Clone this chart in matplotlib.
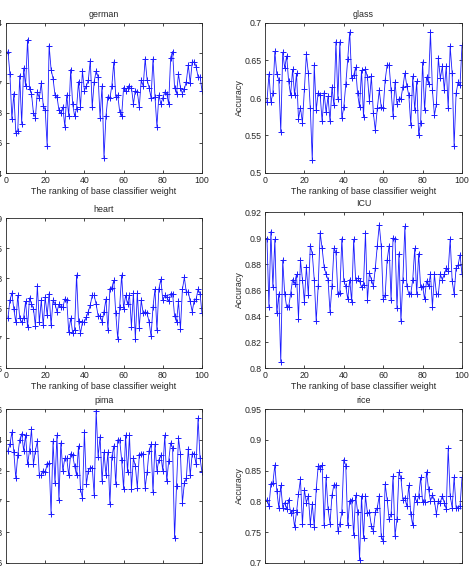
import numpy as np
import matplotlib
matplotlib.use("Agg")
import matplotlib.pyplot as plt
from matplotlib.ticker import FuncFormatter

plt.rcParams['font.family'] = ['Liberation Sans', 'DejaVu Sans']

rank = list(range(1, 101))

german = [0.721, 0.706, 0.676, 0.693, 0.667, 0.668, 0.705, 0.673, 0.710, 0.698,
          0.729, 0.696, 0.693, 0.680, 0.677, 0.694, 0.690, 0.700, 0.685, 0.682,
          0.658, 0.725, 0.709, 0.703, 0.692, 0.691, 0.682, 0.680, 0.684, 0.671,
          0.692, 0.678, 0.709, 0.686, 0.678, 0.683, 0.701, 0.684, 0.708, 0.695,
          0.698, 0.702, 0.715, 0.684, 0.701, 0.708, 0.704, 0.677, 0.698, 0.650,
          0.678, 0.691, 0.690, 0.698, 0.714, 0.691, 0.692, 0.681, 0.678, 0.697,
          0.695, 0.697, 0.698, 0.697, 0.686, 0.695, 0.694, 0.684, 0.702, 0.698,
          0.716, 0.702, 0.697, 0.690, 0.716, 0.691, 0.671, 0.692, 0.686, 0.690,
          0.694, 0.693, 0.686, 0.717, 0.721, 0.697, 0.693, 0.706, 0.697, 0.693,
          0.696, 0.701, 0.712, 0.700, 0.714, 0.714, 0.711, 0.704, 0.704, 0.695]

glass = [0.595, 0.632, 0.595, 0.606, 0.662, 0.632, 0.624, 0.555, 0.661, 0.640,
         0.656, 0.622, 0.604, 0.638, 0.604, 0.633, 0.572, 0.587, 0.567, 0.612,
         0.658, 0.633, 0.586, 0.517, 0.644, 0.584, 0.607, 0.604, 0.569, 0.607,
         0.581, 0.602, 0.569, 0.614, 0.590, 0.675, 0.599, 0.675, 0.573, 0.588,
         0.618, 0.652, 0.688, 0.626, 0.630, 0.641, 0.606, 0.588, 0.637, 0.575,
         0.638, 0.628, 0.596, 0.629, 0.580, 0.557, 0.586, 0.610, 0.588, 0.586,
         0.624, 0.644, 0.644, 0.610, 0.576, 0.621, 0.592, 0.599, 0.599, 0.615,
         0.633, 0.616, 0.604, 0.564, 0.629, 0.584, 0.622, 0.551, 0.567, 0.648,
         0.584, 0.628, 0.619, 0.688, 0.610, 0.577, 0.592, 0.653, 0.626, 0.642,
         0.611, 0.642, 0.586, 0.669, 0.633, 0.536, 0.606, 0.621, 0.617, 0.670]

heart = [0.733, 0.763, 0.775, 0.748, 0.726, 0.771, 0.733, 0.726, 0.734, 0.761,
         0.718, 0.767, 0.757, 0.749, 0.720, 0.787, 0.726, 0.763, 0.721, 0.768,
         0.738, 0.774, 0.721, 0.763, 0.757, 0.744, 0.756, 0.752, 0.751, 0.765,
         0.763, 0.710, 0.733, 0.709, 0.714, 0.805, 0.728, 0.708, 0.726, 0.727,
         0.735, 0.744, 0.755, 0.771, 0.771, 0.756, 0.737, 0.737, 0.727, 0.744,
         0.765, 0.713, 0.781, 0.784, 0.796, 0.741, 0.699, 0.752, 0.805, 0.749,
         0.771, 0.757, 0.772, 0.719, 0.775, 0.699, 0.775, 0.717, 0.763, 0.741,
         0.744, 0.741, 0.727, 0.703, 0.752, 0.781, 0.713, 0.782, 0.798, 0.763,
         0.771, 0.768, 0.761, 0.774, 0.774, 0.737, 0.727, 0.761, 0.715, 0.781,
         0.801, 0.776, 0.777, 0.761, 0.744, 0.762, 0.765, 0.781, 0.774, 0.741]

icu = [0.8995, 0.847, 0.905, 0.862, 0.899, 0.842, 0.857, 0.805, 0.883, 0.857,
       0.847, 0.847, 0.857, 0.868, 0.865, 0.872, 0.838, 0.883, 0.868, 0.851,
       0.878, 0.856, 0.894, 0.888, 0.868, 0.836, 0.863, 0.904, 0.892, 0.878,
       0.872, 0.868, 0.843, 0.863, 0.892, 0.889, 0.857, 0.858, 0.8995, 0.867,
       0.863, 0.853, 0.868, 0.851, 0.899, 0.868, 0.869, 0.867, 0.862, 0.864,
       0.904, 0.852, 0.873, 0.868, 0.863, 0.877, 0.894, 0.910, 0.894, 0.853,
       0.856, 0.883, 0.894, 0.852, 0.900, 0.8995, 0.846, 0.888, 0.836, 0.868,
       0.909, 0.863, 0.857, 0.857, 0.868, 0.892, 0.857, 0.888, 0.862, 0.863,
       0.853, 0.867, 0.863, 0.872, 0.847, 0.872, 0.857, 0.857, 0.872, 0.868,
       0.872, 0.877, 0.875, 0.899, 0.867, 0.857, 0.877, 0.879, 0.887, 0.872]

pima = [0.733, 0.737, 0.745, 0.732, 0.715, 0.730, 0.740, 0.744, 0.733, 0.743,
        0.724, 0.733, 0.747, 0.724, 0.733, 0.739, 0.717, 0.717, 0.720, 0.719,
        0.724, 0.725, 0.692, 0.739, 0.712, 0.743, 0.701, 0.738, 0.720, 0.728,
        0.728, 0.717, 0.731, 0.730, 0.723, 0.717, 0.736, 0.708, 0.702, 0.745,
        0.711, 0.720, 0.722, 0.722, 0.704, 0.759, 0.729, 0.742, 0.713, 0.732,
        0.717, 0.732, 0.698, 0.729, 0.736, 0.711, 0.740, 0.740, 0.727, 0.708,
        0.743, 0.719, 0.743, 0.708, 0.728, 0.723, 0.709, 0.730, 0.731, 0.731,
        0.709, 0.719, 0.733, 0.737, 0.706, 0.737, 0.720, 0.727, 0.730, 0.720,
        0.743, 0.713, 0.726, 0.738, 0.735, 0.676, 0.710, 0.741, 0.731, 0.699,
        0.712, 0.715, 0.734, 0.717, 0.731, 0.731, 0.724, 0.754, 0.728, 0.719]

rice = [0.803, 0.792, 0.828, 0.830, 0.859, 0.817, 0.790, 0.826, 0.790, 0.798,
        0.788, 0.803, 0.781, 0.786, 0.759, 0.782, 0.812, 0.836, 0.763, 0.819,
        0.798, 0.809, 0.763, 0.796, 0.759, 0.820, 0.857, 0.853, 0.859, 0.761,
        0.839, 0.788, 0.764, 0.810, 0.827, 0.827, 0.752, 0.764, 0.782, 0.868,
        0.858, 0.761, 0.801, 0.803, 0.745, 0.810, 0.783, 0.705, 0.809, 0.741,
        0.809, 0.781, 0.782, 0.760, 0.752, 0.782, 0.790, 0.809, 0.744, 0.735,
        0.828, 0.803, 0.771, 0.779, 0.841, 0.744, 0.771, 0.847, 0.838, 0.803,
        0.806, 0.792, 0.826, 0.779, 0.761, 0.808, 0.799, 0.808, 0.839, 0.799,
        0.799, 0.848, 0.820, 0.801, 0.810, 0.801, 0.779, 0.801, 0.798, 0.809,
        0.798, 0.788, 0.886, 0.809, 0.790, 0.839, 0.790, 0.790, 0.792, 0.839]

titles = ['german', 'glass', 'heart', 'ICU', 'pima', 'rice']
series = [german, glass, heart, icu, pima, rice]
ylims = [(0.64, 0.74), (0.5, 0.7), (0.65, 0.9), (0.8, 0.92), (0.66, 0.76), (0.7, 0.95)]
yticks = [[0.64, 0.66, 0.68, 0.70, 0.72, 0.74],
          [0.5, 0.55, 0.6, 0.65, 0.7],
          [0.65, 0.7, 0.75, 0.8, 0.85, 0.9],
          [0.8, 0.82, 0.84, 0.86, 0.88, 0.9, 0.92],
          [0.66, 0.68, 0.70, 0.72, 0.74, 0.76],
          [0.7, 0.75, 0.8, 0.85, 0.9, 0.95]]
xticks = [0, 20, 40, 60, 80, 100]

W, H = 470, 566
# pixel boxes: (left, top, right, bottom)
boxes = [(6, 23, 202, 173), (265, 23, 462, 173),
         (6, 218, 202, 368), (265, 212, 462, 368),
         (6, 409, 202, 563), (265, 409, 462, 563)]

fig = plt.figure(figsize=(W / 100, H / 100), dpi=100)
fig.patch.set_facecolor('white')
txt = '#262626'
fmt = FuncFormatter(lambda v, p: '%g' % round(v, 4))

for i, (t, s, yl, yt, b) in enumerate(zip(titles, series, ylims, yticks, boxes)):
    l, tp, r, bt = b
    ax = fig.add_axes([l / W, 1 - bt / H, (r - l) / W, (bt - tp) / H])
    ax.plot(rank, s, color='#1a1aff', lw=0.6, marker='+', ms=5, mew=0.7)
    ax.set_xlim(0, 100)
    ax.set_ylim(*yl)
    ax.set_xticks(xticks)
    ax.set_yticks(yt)
    ax.yaxis.set_major_formatter(fmt)
    ax.tick_params(direction='in', length=2.5, width=0.6, top=True, right=True,
                   labelsize=6.3, colors=txt)
    ax.tick_params(axis='y', pad=2.2)
    ax.tick_params(axis='x', pad=2.4)
    for sp in ax.spines.values():
        sp.set_linewidth(0.6)
        sp.set_color(txt)
    ax.set_title(t, fontsize=6.4, color=txt, pad=4.5)
    ax.set_xlabel('The ranking of base classifier weight', fontsize=6.4, color=txt, labelpad=1.5)
    ax.set_ylabel('Accuracy', fontsize=6.4, color=txt, labelpad=0.5)

fig.savefig('out.png', dpi=100, facecolor='white')
